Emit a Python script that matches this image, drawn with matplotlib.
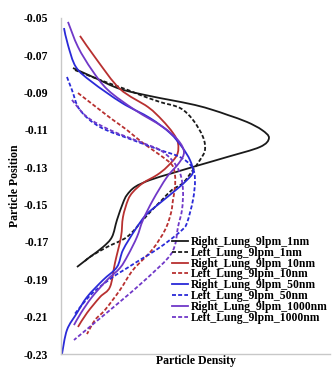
import numpy as np
import matplotlib
matplotlib.use("Agg")
import matplotlib.pyplot as plt
from matplotlib.path import Path
from matplotlib.patches import PathPatch

plt.rcParams['font.family'] = ['Liberation Serif', 'DejaVu Serif']
plt.rcParams['font.weight'] = 'bold'

# position (y) and density (x, arbitrary units)
pos_r1 = [-0.0768, -0.0821, -0.0880, -0.0918, -0.0939, -0.0966, -0.0993, -0.1020, -0.1057,
          -0.1100, -0.1143, -0.1191, -0.1245, -0.1287, -0.1330, -0.1368, -0.1405, -0.1448,
          -0.1491, -0.1582, -0.1673, -0.1727, -0.1780, -0.1834]
den_r1 = [0.12, 0.34, 0.59, 0.89, 1.09, 1.34, 1.52, 1.67, 1.86,
          2.01, 2.08, 1.99, 1.66, 1.39, 1.12, 0.89, 0.74, 0.66,
          0.62, 0.56, 0.51, 0.42, 0.29, 0.16]

pos_l1 = [-0.0779, -0.0832, -0.0886, -0.0912, -0.0950, -0.0982, -0.1046, -0.1137, -0.1207,
          -0.1261, -0.1314, -0.1384, -0.1421, -0.1475, -0.1529, -0.1582, -0.1673, -0.1727,
          -0.1780, -0.1807]
den_l1 = [0.14, 0.39, 0.67, 0.79, 0.99, 1.19, 1.32, 1.42, 1.44,
          1.39, 1.32, 1.22, 1.11, 1.01, 0.91, 0.82, 0.66, 0.46,
          0.29, 0.23]

pos_r10 = [-0.0596, -0.0725, -0.0880, -0.0977, -0.1046, -0.1116, -0.1170, -0.1234, -0.1298,
           -0.1341, -0.1384, -0.1432, -0.1475, -0.1566, -0.1673, -0.1812, -0.1941, -0.1995,
           -0.2080, -0.2155]
den_r10 = [0.19, 0.36, 0.59, 0.87, 1.01, 1.12, 1.17, 1.16, 1.06,
           0.96, 0.82, 0.72, 0.67, 0.62, 0.60, 0.54, 0.49, 0.39,
           0.26, 0.17]

pos_l10 = [-0.0902, -0.0993, -0.1046, -0.1100, -0.1170, -0.1234, -0.1287, -0.1341, -0.1405,
           -0.1475, -0.1545, -0.1636, -0.1743, -0.1850, -0.1957, -0.2064, -0.2118, -0.2193]
den_l10 = [0.17, 0.39, 0.52, 0.66, 0.82, 0.99, 1.11, 1.14, 1.14,
           1.12, 1.10, 1.04, 0.91, 0.72, 0.59, 0.44, 0.34, 0.26]

pos_r50 = [-0.0554, -0.0645, -0.0763, -0.0843, -0.0955, -0.1036, -0.1116, -0.1191, -0.1261,
           -0.1325, -0.1368, -0.1421, -0.1491, -0.1555, -0.1636, -0.1743, -0.1834, -0.1904,
           -0.1995, -0.2080, -0.2171, -0.2300]
den_r50 = [0.03, 0.07, 0.15, 0.31, 0.61, 0.89, 1.09, 1.21, 1.29,
           1.32, 1.26, 1.15, 0.99, 0.85, 0.74, 0.62, 0.56, 0.42,
           0.26, 0.16, 0.06, 0.01]

pos_l50 = [-0.0816, -0.0886, -0.0993, -0.1084, -0.1154, -0.1207, -0.1245, -0.1298, -0.1368,
           -0.1475, -0.1598, -0.1636, -0.1689, -0.1743, -0.1796, -0.1850, -0.1887, -0.1957,
           -0.2011, -0.2091]
den_l50 = [0.06, 0.11, 0.19, 0.39, 0.72, 0.99, 1.19, 1.31, 1.34,
           1.32, 1.26, 1.21, 1.09, 0.95, 0.79, 0.63, 0.52, 0.35,
           0.25, 0.13]

pos_r1000 = [-0.0521, -0.0655, -0.0779, -0.0886, -0.0993, -0.1084, -0.1154, -0.1218, -0.1277,
             -0.1352, -0.1475, -0.1582, -0.1673, -0.1770, -0.1839, -0.1904, -0.1995, -0.2080,
             -0.2145]
den_r1000 = [0.07, 0.17, 0.31, 0.47, 0.74, 1.02, 1.17, 1.23, 1.18,
             1.06, 0.92, 0.82, 0.76, 0.67, 0.59, 0.46, 0.31, 0.20,
             0.13]

pos_l1000 = [-0.0939, -0.1030, -0.1100, -0.1170, -0.1207, -0.1261, -0.1330, -0.1421, -0.1529,
             -0.1620, -0.1716, -0.1786, -0.1904, -0.2011, -0.2118, -0.2225]
den_l1000 = [0.11, 0.26, 0.49, 0.82, 0.99, 1.11, 1.19, 1.22, 1.21,
             1.17, 1.14, 1.07, 0.84, 0.61, 0.37, 0.13]

labels = ['Right_Lung_9lpm_1nm', 'Left_Lung_9lpm_1nm',
          'Right_Lung_9lpm_10nm', 'Left_Lung_9lpm_10nm',
          'Right_Lung_9lpm_50nm', 'Left_Lung_9lpm_50nm',
          'Right_Lung_9lpm_1000nm', 'Left_Lung_9lpm_1000nm']
yticks = [-0.05, -0.07, -0.09, -0.11, -0.13, -0.15, -0.17, -0.19, -0.21, -0.23]

series = [(den_r1, pos_r1), (den_l1, pos_l1), (den_r10, pos_r10), (den_l10, pos_l10),
          (den_r50, pos_r50), (den_l50, pos_l50), (den_r1000, pos_r1000), (den_l1000, pos_l1000)]
colors = ['#1a1a1a', '#1a1a1a', '#b83030', '#b83030', '#2a2ad8', '#2a2ad8', '#7038c8', '#7038c8']
styles = ['-', '--', '-', '--', '-', '--', '-', '--']


def smooth_path(x, y):
    # smoothed line like the spreadsheet: bezier segments through every point
    P = np.column_stack([x, y])
    n = len(P)
    verts = [P[0]]
    codes = [Path.MOVETO]
    for i in range(n - 1):
        p0 = P[i - 1] if i > 0 else P[i]
        p3 = P[i + 2] if i + 2 < n else P[i + 1]
        c1 = P[i] + (P[i + 1] - p0) / 6.0
        c2 = P[i + 1] - (p3 - P[i]) / 6.0
        verts += [c1, c2, P[i + 1]]
        codes += [Path.CURVE4] * 3
    return Path(verts, codes)


fig = plt.figure(figsize=(3.36, 3.67), dpi=100)
ax = fig.add_axes([0.1815, 0.0354, 0.8005, 0.9156])

for (d, p), c, ls, lab in zip(series, colors, styles, labels):
    dash = (0, (2.2, 1.2)) if ls == '--' else '-'
    ax.add_patch(PathPatch(smooth_path(d, p), fill=False, edgecolor=c, lw=1.3,
                           linestyle=dash, capstyle='butt'))
    ax.plot([], [], color=c, lw=1.3, linestyle=dash, label=lab)

ax.set_xlim(0, 2.69)
ax.set_ylim(-0.23, -0.05)
ax.set_yticks(yticks)
ax.set_yticklabels(['%.2f' % v for v in yticks], fontsize=8.5, fontweight='bold')
ax.set_xticks([])
ax.tick_params(axis='y', length=0, pad=9)
for s in ['top', 'right']:
    ax.spines[s].set_visible(False)
for s in ['left', 'bottom']:
    ax.spines[s].set_color('#c8c8c8')
    ax.spines[s].set_linewidth(1.0)

ax.set_xlabel('Particle Density', fontsize=8.5, fontweight='bold', labelpad=1)
ax.set_ylabel('Particle Position', fontsize=8.5, fontweight='bold', labelpad=2)

ax.legend(loc='upper left', bbox_to_anchor=(172 / 336, 1 - 236 / 367),
          bbox_transform=fig.transFigure, frameon=False, fontsize=8.4,
          labelspacing=-0.1, handlelength=1.4, handletextpad=0.2, borderpad=0,
          borderaxespad=0)

fig.savefig('out.png', dpi=100)
